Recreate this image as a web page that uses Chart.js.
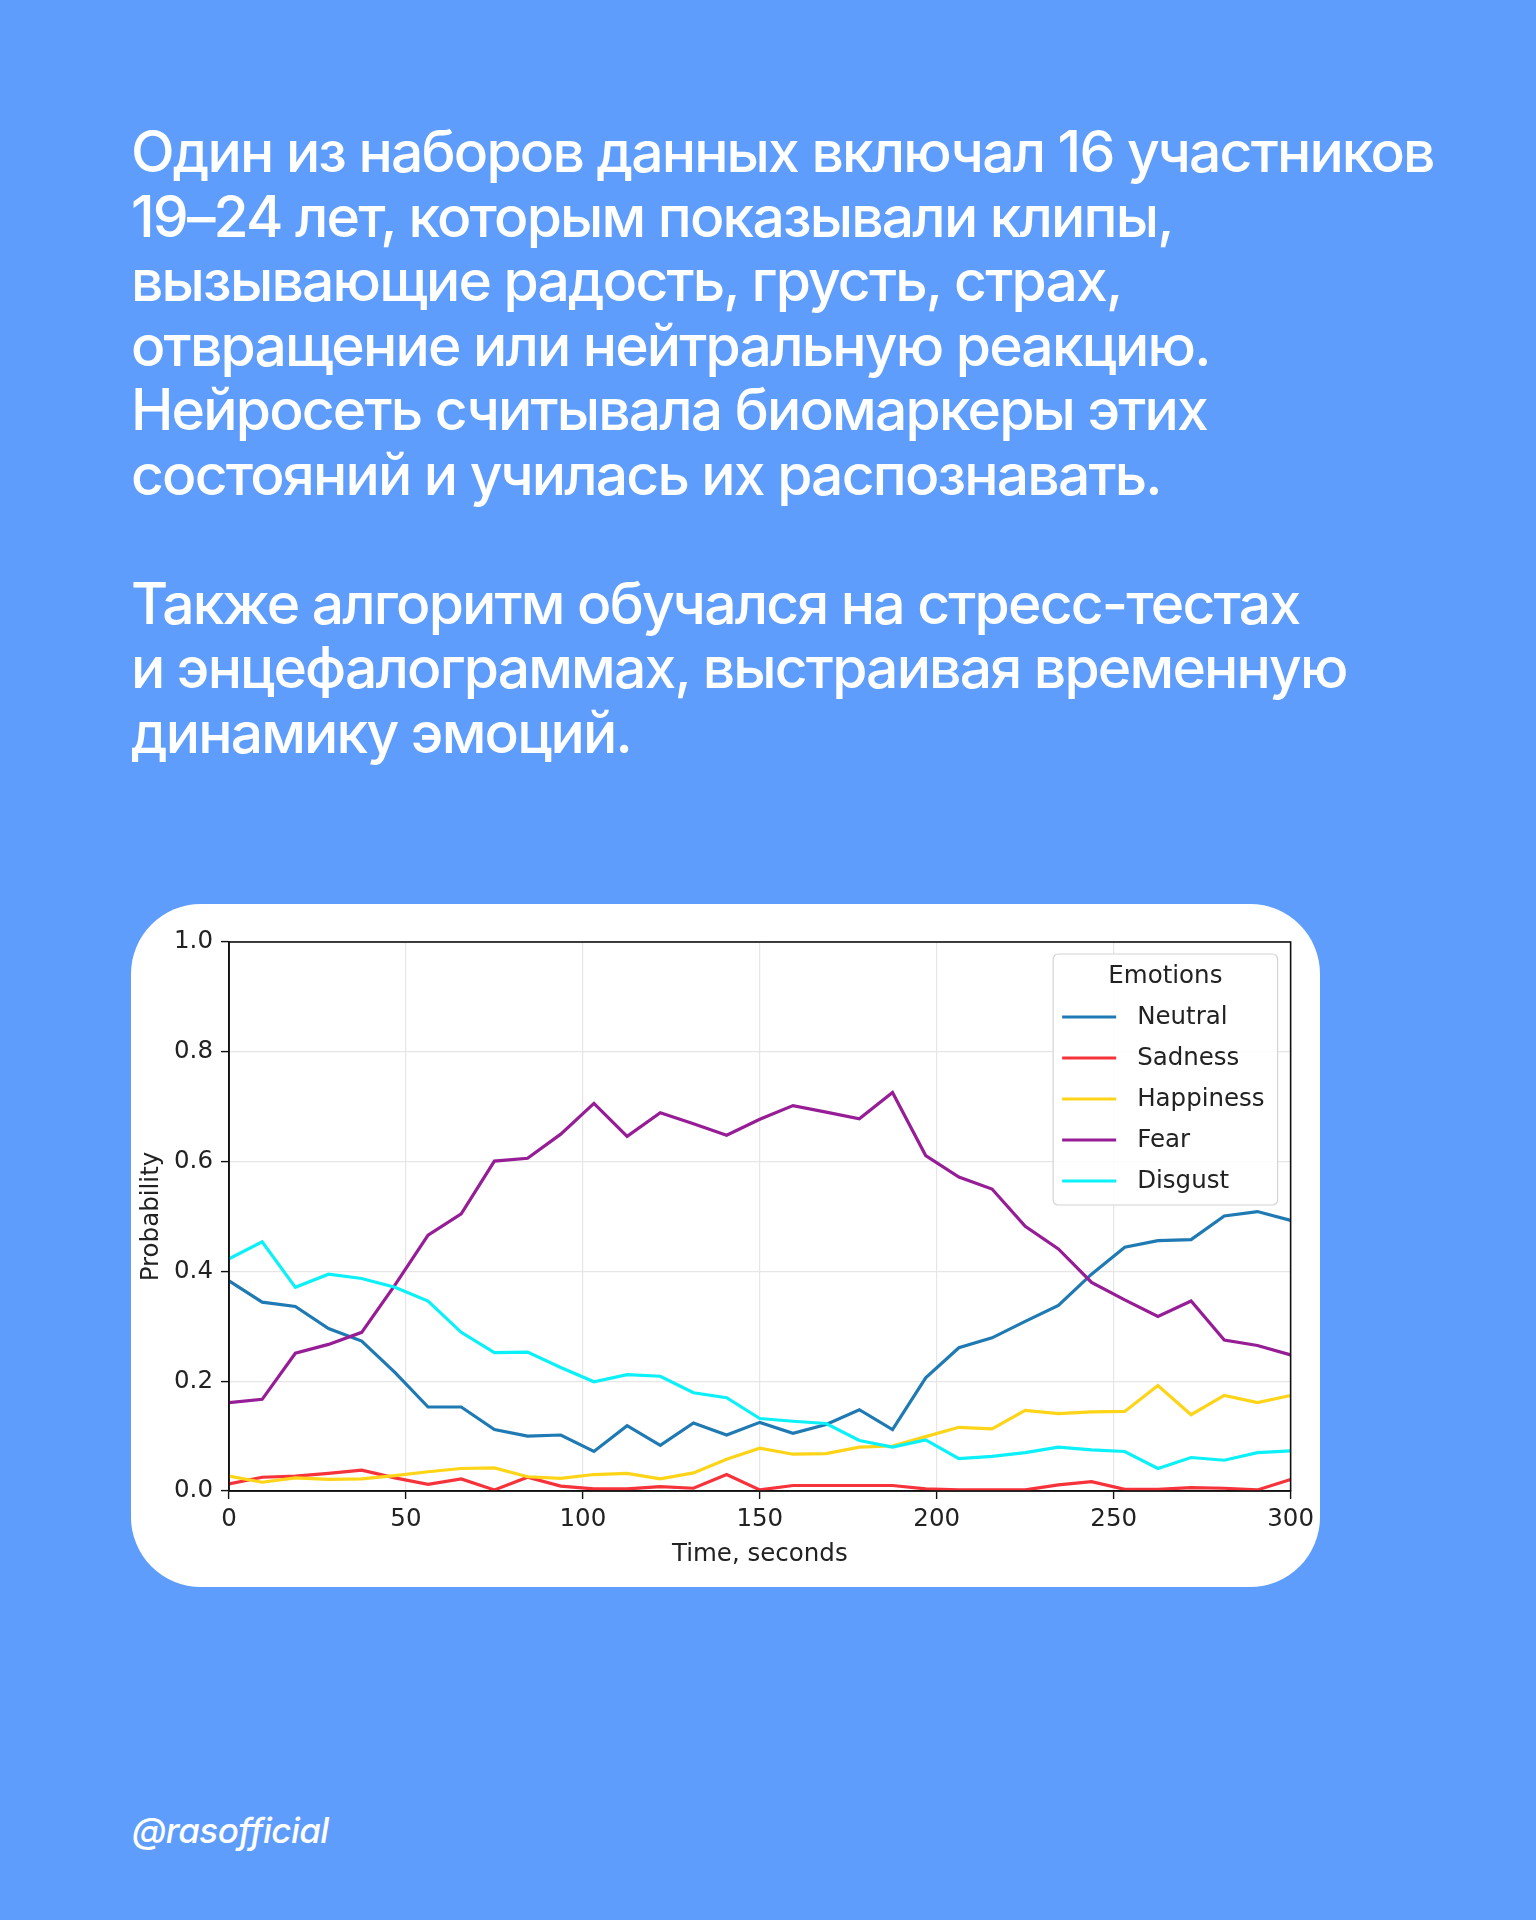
<!DOCTYPE html>
<html lang="ru">
<head>
<meta charset="utf-8">
<title>Emotions</title>
<script src="https://cdn.jsdelivr.net/npm/chart.js@4.4.1/dist/chart.umd.min.js"></script>
<style>
  html, body { margin: 0; padding: 0; }
  body {
    width: 1536px;
    height: 1920px;
    background: #5f9dfd;
    position: relative;
    overflow: hidden;
    font-family: Inter, "Noto Sans", sans-serif;
  }
  .text {
    position: absolute;
    left: 131px;
    top: 120px;
    margin: 0;
    color: #fff;
    font-size: 57px;
    font-weight: 500;
    line-height: 64.5px;
    letter-spacing: -0.032em;
    white-space: pre;
  }
  .card {
    position: absolute;
    left: 131px;
    top: 904px;
    width: 1189px;
    height: 683px;
    background: #fff;
    border-radius: 70px;
    overflow: hidden;
  }
  .card canvas { position: absolute; left: 0; top: 0; }
  .footer {
    position: absolute;
    left: 132px;
    top: 1809px;
    color: #fff;
    font-size: 35px;
    font-style: italic;
    font-weight: 500;
    letter-spacing: -0.015em;
  }
</style>
</head>
<body>
<p class="text">Один из наборов данных включал 16 участников
19–24 лет, которым показывали клипы,
вызывающие радость, грусть, страх,
отвращение или нейтральную реакцию.
Нейросеть считывала биомаркеры этих
состояний и училась их распознавать.

Также алгоритм обучался на стресс-тестах
и энцефалограммах, выстраивая временную
динамику эмоций.</p>

<div class="card">
  <canvas id="emotionChart" width="1189" height="683"></canvas>
</div>

<div class="footer">@rasofficial</div>

<script>
// time points, seconds
const times = [0, 9.375, 18.75, 28.125, 37.5, 46.875, 56.25, 65.625, 75, 84.375,
  93.75, 103.125, 112.5, 121.875, 131.25, 140.625, 150, 159.375, 168.75, 178.125,
  187.5, 196.875, 206.25, 215.625, 225, 234.375, 243.75, 253.125, 262.5, 271.875,
  281.25, 290.625, 300];

const neutral = [0.383, 0.344, 0.336, 0.296, 0.273, 0.216, 0.153, 0.153, 0.112, 0.100,
  0.102, 0.072, 0.119, 0.083, 0.124, 0.102, 0.125, 0.105, 0.121, 0.148,
  0.112, 0.206, 0.261, 0.279, 0.309, 0.338, 0.395, 0.444, 0.456, 0.458,
  0.501, 0.509, 0.493];
const sadness = [0.013, 0.025, 0.027, 0.032, 0.038, 0.024, 0.012, 0.022, 0.002, 0.025,
  0.009, 0.004, 0.004, 0.008, 0.005, 0.030, 0.002, 0.010, 0.010, 0.010,
  0.010, 0.004, 0.002, 0.002, 0.002, 0.011, 0.017, 0.003, 0.003, 0.006,
  0.005, 0.002, 0.021];
const happiness = [0.027, 0.016, 0.024, 0.021, 0.022, 0.028, 0.035, 0.041, 0.042, 0.026,
  0.023, 0.030, 0.032, 0.022, 0.033, 0.058, 0.078, 0.067, 0.068, 0.080,
  0.082, 0.099, 0.116, 0.113, 0.147, 0.141, 0.144, 0.145, 0.192, 0.139,
  0.174, 0.161, 0.174];
const fear = [0.161, 0.167, 0.251, 0.267, 0.289, 0.375, 0.466, 0.505, 0.601, 0.606,
  0.650, 0.706, 0.646, 0.689, 0.669, 0.648, 0.677, 0.702, 0.690, 0.678,
  0.726, 0.611, 0.572, 0.550, 0.482, 0.441, 0.380, 0.348, 0.318, 0.346,
  0.275, 0.265, 0.248];
const disgust = [0.423, 0.454, 0.371, 0.395, 0.387, 0.371, 0.346, 0.289, 0.252, 0.253,
  0.225, 0.199, 0.212, 0.209, 0.179, 0.170, 0.132, 0.127, 0.123, 0.092,
  0.080, 0.093, 0.059, 0.063, 0.070, 0.080, 0.075, 0.072, 0.041, 0.061,
  0.056, 0.070, 0.073];

const seriesNames = ['Neutral', 'Sadness', 'Happiness', 'Fear', 'Disgust'];
const seriesValues = [neutral, sadness, happiness, fear, disgust];
const seriesColors = ['#1f7ab4', '#f6333b', '#fdd418', '#961d96', '#0cf0f8'];

const xTicks = [0, 50, 100, 150, 200, 250, 300];
const yTicks = [0, 0.2, 0.4, 0.6, 0.8, 1.0];

const FONT = "'DejaVu Sans', sans-serif";
const TEXT_COLOR = '#222';

// matplotlib-like frame + legend box in the upper right
const framePlugin = {
  id: 'frame',
  afterDatasetsDraw(chart) {
    const { ctx, chartArea } = chart;
    ctx.save();
    ctx.strokeStyle = '#111';
    ctx.lineWidth = 1.6;
    ctx.strokeRect(chartArea.left, chartArea.top,
      chartArea.right - chartArea.left, chartArea.bottom - chartArea.top);

    // legend
    ctx.font = '24.5px ' + FONT;
    let maxW = ctx.measureText('Emotions').width;
    chart.data.datasets.forEach(ds => {
      maxW = Math.max(maxW, ctx.measureText(ds.label).width);
    });
    const boxW = 84 + maxW + 13;
    const boxH = 251;
    const right = chartArea.right - 13;
    const left = right - boxW;
    const top = chartArea.top + 12;

    ctx.beginPath();
    ctx.roundRect(left, top, boxW, boxH, 5);
    ctx.fillStyle = 'rgba(255,255,255,0.85)';
    ctx.fill();
    ctx.strokeStyle = '#d4d4d4';
    ctx.lineWidth = 1.2;
    ctx.stroke();

    ctx.fillStyle = TEXT_COLOR;
    ctx.textBaseline = 'middle';
    ctx.textAlign = 'center';
    ctx.fillText('Emotions', left + boxW / 2, top + 23);

    ctx.textAlign = 'left';
    chart.data.datasets.forEach((ds, i) => {
      const y = top + 63 + i * 41;
      ctx.strokeStyle = ds.borderColor;
      ctx.lineWidth = 3.2;
      ctx.beginPath();
      ctx.moveTo(left + 9, y);
      ctx.lineTo(left + 63, y);
      ctx.stroke();
      ctx.fillStyle = TEXT_COLOR;
      ctx.fillText(ds.label, left + 84, y + 1);
    });
    ctx.restore();
  }
};

const ctx = document.getElementById('emotionChart').getContext('2d');
const emotionChart = new Chart(ctx, {
  type: 'line',
  data: {
    datasets: seriesNames.map((name, i) => ({
      label: name,
      data: times.map((t, j) => ({ x: t, y: seriesValues[i][j] })),
      borderColor: seriesColors[i],
      backgroundColor: seriesColors[i],
      borderWidth: 3.2,
      pointRadius: 0,
      tension: 0,
      fill: false,
      order: seriesNames.length - i
    }))
  },
  options: {
    responsive: false,
    animation: false,
    layout: { padding: { left: 0, top: 38, right: 28, bottom: 0 } },
    plugins: {
      legend: { display: false },
      tooltip: { enabled: false }
    },
    scales: {
      x: {
        type: 'linear',
        min: 0,
        max: 300,
        afterFit(scale) { scale.height = 96; },
        afterBuildTicks(scale) { scale.ticks = xTicks.map(v => ({ value: v })); },
        ticks: {
          color: TEXT_COLOR,
          font: { family: FONT, size: 24.5 },
          padding: 6,
          maxRotation: 0,
          callback: v => String(v)
        },
        grid: {
          color: '#e6e6e6',
          lineWidth: 1.2,
          tickColor: '#111',
          tickLength: 8,
          tickWidth: 1.4
        },
        border: { color: '#111', width: 1.6 },
        title: {
          display: true,
          text: 'Time, seconds',
          color: TEXT_COLOR,
          font: { family: FONT, size: 24.5 },
          padding: { top: 0, bottom: 18 }
        }
      },
      y: {
        min: 0,
        max: 1,
        afterFit(scale) { scale.width = 98; },
        afterBuildTicks(scale) { scale.ticks = yTicks.map(v => ({ value: v })); },
        ticks: {
          color: TEXT_COLOR,
          font: { family: FONT, size: 24.5 },
          padding: 8,
          callback: v => Number(v).toFixed(1)
        },
        grid: {
          color: '#e6e6e6',
          lineWidth: 1.2,
          tickColor: '#111',
          tickLength: 8,
          tickWidth: 1.4
        },
        border: { color: '#111', width: 1.6 },
        title: {
          display: true,
          text: 'Probability',
          color: TEXT_COLOR,
          font: { family: FONT, size: 24.5 },
          padding: { top: 6, bottom: 0 }
        }
      }
    }
  },
  plugins: [framePlugin]
});
</script>
</body>
</html>
